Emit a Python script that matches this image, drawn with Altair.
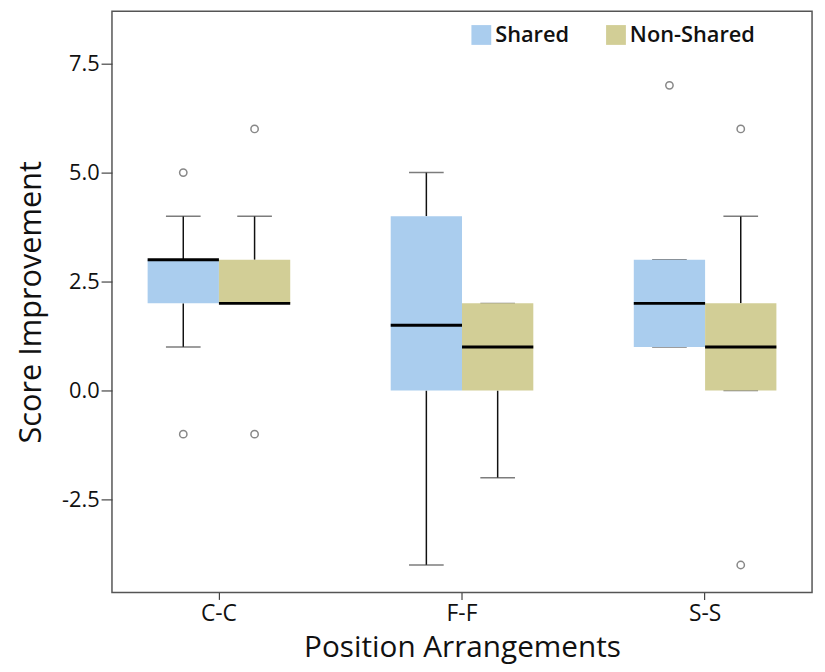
import altair as alt
import pandas as pd

categories = ["C-C", "F-F", "S-S"]
groups = ["Shared", "Non-Shared"]
colors = ["#AACDEE", "#D2CE96"]

# box statistics per category (order of categories)
shared_low = [1, -4, 1]
shared_q1 = [2, 0, 1]
shared_med = [3, 1.5, 2]
shared_q3 = [3, 4, 3]
shared_high = [4, 5, 3]

non_low = [2, -2, 0]
non_q1 = [2, 0, 0]
non_med = [2, 1, 1]
non_q3 = [3, 2, 2]
non_high = [4, 2, 4]

# outliers
out_cat = ["C-C", "C-C", "S-S", "C-C", "C-C", "S-S", "S-S"]
out_group = ["Shared", "Shared", "Shared", "Non-Shared", "Non-Shared", "Non-Shared", "Non-Shared"]
out_val = [5, -1, 7, 6, -1, 6, -4]

y_ticks = [-2.5, 0, 2.5, 5, 7.5]

rows = []
for i, c in enumerate(categories):
    rows.append(dict(cat=c, group="Shared", low=shared_low[i], q1=shared_q1[i],
                     med=shared_med[i], q3=shared_q3[i], high=shared_high[i]))
    rows.append(dict(cat=c, group="Non-Shared", low=non_low[i], q1=non_q1[i],
                     med=non_med[i], q3=non_q3[i], high=non_high[i]))
stats = pd.DataFrame(rows)
outs = pd.DataFrame(dict(cat=out_cat, group=out_group, val=out_val))

yscale = alt.Scale(domain=[-4.63, 8.70], nice=False, zero=False)
xenc = alt.X("cat:N", sort=categories,
             scale=alt.Scale(domain=categories, paddingInner=0.12, paddingOuter=0),
             axis=alt.Axis(title="Position Arrangements", labelAngle=0))
xoff = alt.XOffset("group:N", sort=groups,
                   scale=alt.Scale(domain=groups, paddingOuter=0.5, paddingInner=0))
yaxis = alt.Axis(title="Score Improvement", values=y_ticks,
                 labelExpr="datum.value < 0 ? '-' + format(-datum.value, '.1f') : format(datum.value, '.1f')")

base = alt.Chart(stats)

whisk_low = base.mark_rule(color="#111", strokeWidth=1.5).encode(
    x=xenc, xOffset=xoff,
    y=alt.Y("low:Q", scale=yscale, axis=yaxis), y2="q1:Q")
whisk_high = base.mark_rule(color="#111", strokeWidth=1.5).encode(
    x=xenc, xOffset=xoff, y=alt.Y("q3:Q", scale=yscale), y2="high:Q")
cap_low = base.mark_tick(color="#444", size=35, thickness=1.5).encode(
    x=xenc, xOffset=xoff, y=alt.Y("low:Q", scale=yscale))
cap_high = base.mark_tick(color="#444", size=35, thickness=1.5).encode(
    x=xenc, xOffset=xoff, y=alt.Y("high:Q", scale=yscale))
box = base.mark_bar(opacity=1).encode(
    x=xenc, xOffset=xoff,
    y=alt.Y("q1:Q", scale=yscale), y2="q3:Q",
    color=alt.Color("group:N", sort=groups,
                    scale=alt.Scale(domain=groups, range=colors),
                    legend=alt.Legend(title=None)))
median = base.mark_tick(color="#000", size=72, thickness=3, opacity=1).encode(
    x=xenc, xOffset=xoff, y=alt.Y("med:Q", scale=yscale))
points = alt.Chart(outs).mark_point(shape="circle", filled=False, color="#555",
                                    size=55, strokeWidth=1.5).encode(
    x=xenc, xOffset=xoff, y=alt.Y("val:Q", scale=yscale))

chart = alt.layer(whisk_low, whisk_high, cap_low, cap_high, box, median, points).properties(
    width=707, height=587,
    autosize=alt.AutoSizeParams(type="none"),
    padding={"left": 105, "top": 0, "right": 5, "bottom": 70},
).configure_view(
    stroke="#555", strokeWidth=1.5
).configure_axis(
    grid=False, domain=False,
    labelFont="Open Sans", titleFont="Open Sans",
    labelColor="#111", titleColor="#111",
    tickColor="#444", tickWidth=1.2,
).configure_axisY(
    labelFontSize=22, tickSize=11, labelPadding=2,
    titleFontSize=31, titleFontWeight=500, titlePadding=14,
).configure_axisX(
    labelFontSize=23, tickSize=7, labelPadding=3,
    titleFontSize=30, titleFontWeight=500, titlePadding=8,
).configure_legend(
    orient="none", legendX=362, legendY=13, direction="horizontal",
    symbolType="square", symbolSize=400, symbolStrokeWidth=0, symbolOpacity=1,
    labelFont="Open Sans", labelFontSize=22, labelFontWeight=600, labelColor="#111",
    labelOffset=3, columnPadding=36,
)

chart.save("out.html", embed_options={"renderer": "svg", "actions": False})
